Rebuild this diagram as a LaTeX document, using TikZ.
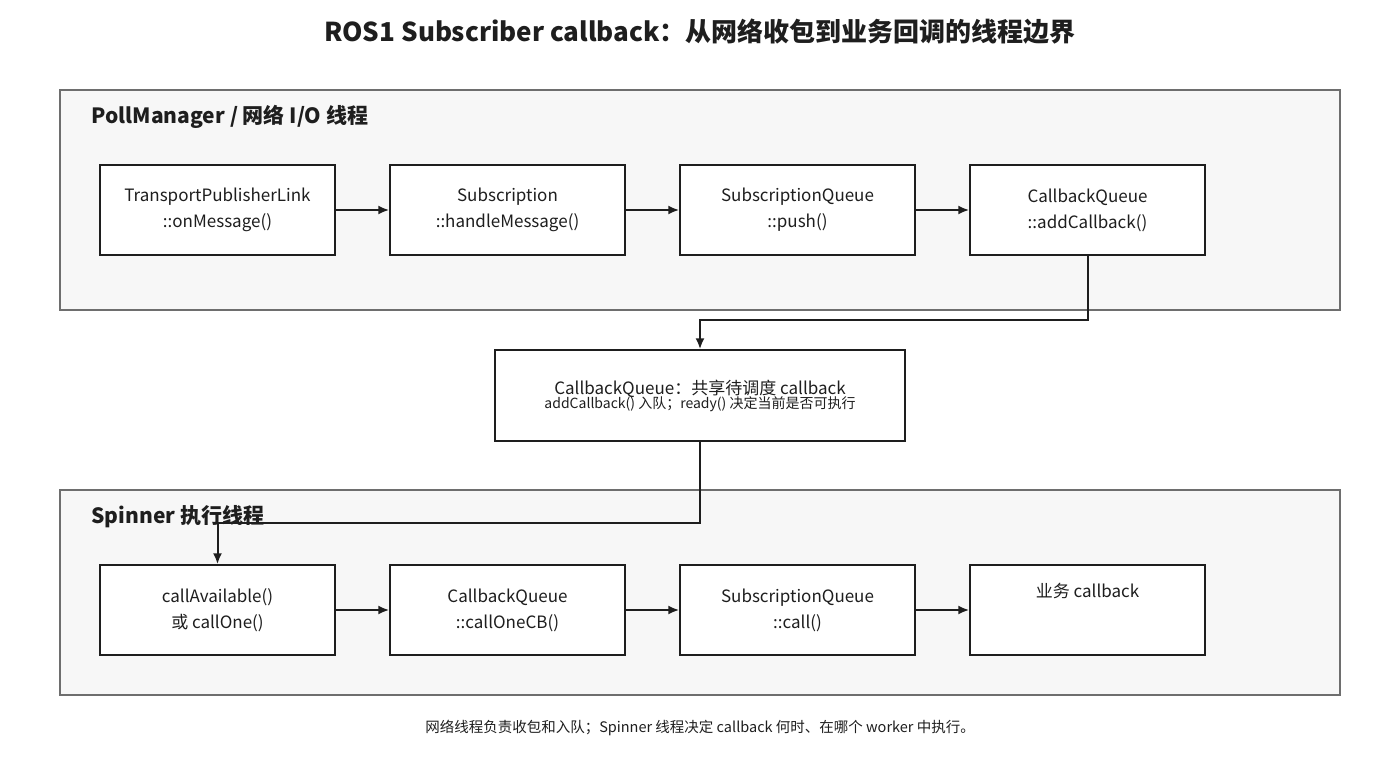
\documentclass[tikz,border=0pt]{standalone}
\usepackage{fontspec}
\setmainfont{Noto Sans CJK SC}
\usetikzlibrary{arrows.meta, positioning}
\definecolor{panelfill}{RGB}{247,247,247}
\definecolor{panelline}{RGB}{110,110,110}
\definecolor{ink}{RGB}{30,30,30}

\begin{document}
\begin{tikzpicture}[
        x=1pt, y=-1pt,
        panel/.style={draw=panelline, fill=panelfill, line width=1.2pt},
        callstep/.style={draw=ink, fill=white, line width=1.5pt, minimum width=235pt, minimum height=90pt, align=center, font=\fontsize{17}{26}\selectfont, text=ink},
        flow/.style={-{Latex[length=11pt,width=9pt]}, draw=ink, line width=2pt},
        paneltitle/.style={anchor=west, font=\fontsize{21}{24}\selectfont\bfseries, text=ink}
    ]
    \useasboundingbox (0,0) rectangle (1400,760);

    % Title
    \node[font=\fontsize{26}{30}\selectfont\bfseries, text=ink] (title) at (700,32) {ROS1 Subscriber callback：从网络收包到业务回调的线程边界};

    % Panels
    \draw[panel] (60,90) rectangle (1340,310);
    \node[paneltitle] (polltitle) at (88,117) {PollManager / 网络 I/O 线程};
    \draw[panel] (60,490) rectangle (1340,695);
    \node[paneltitle] (spintitle) at (88,517) {Spinner 执行线程};

    % Network thread
    \node[callstep] (link) at (217.5,210) {TransportPublisherLink\\::onMessage()};
    \node[callstep] (sub) at (507.5,210) {Subscription\\::handleMessage()};
    \node[callstep] (squeue) at (797.5,210) {SubscriptionQueue\\::push()};
    \node[callstep] (addcb) at (1087.5,210) {CallbackQueue\\::addCallback()};

    % Shared queue
    \node[draw=ink, fill=white, line width=1.5pt, minimum width=410pt, minimum height=91pt, align=center, text=ink] (shared) at (700,395.5)
        {{\fontsize{17}{26}\selectfont CallbackQueue：共享待调度 callback}\\[-2pt]{\fontsize{14}{20}\selectfont addCallback() 入队；ready() 决定当前是否可执行}};

    % Spinner thread
    \node[callstep] (avail) at (217.5,610) {callAvailable()\\或 callOne()};
    \node[callstep] (onecb) at (507.5,610) {CallbackQueue\\::callOneCB()};
    \node[callstep] (scall) at (797.5,610) {SubscriptionQueue\\::call()};
    \node[callstep, text depth=40pt] (user) at (1087.5,610) {业务 callback};

    % Arrows
    \draw[flow] (link) -- (sub);
    \draw[flow] (sub) -- (squeue);
    \draw[flow] (squeue) -- (addcb);
    \draw[flow] (addcb.south) -- (1087.5,320) -| (shared.north);
    \draw[flow] (shared.south) -- (700,523) -| (avail.north);
    \draw[flow] (avail) -- (onecb);
    \draw[flow] (onecb) -- (scall);
    \draw[flow] (scall) -- (user);

    % Footer
    \node[font=\fontsize{14.5}{18}\selectfont, text=ink] (note) at (700,728) {网络线程负责收包和入队；Spinner 线程决定 callback 何时、在哪个 worker 中执行。};
\end{tikzpicture}
\end{document}
